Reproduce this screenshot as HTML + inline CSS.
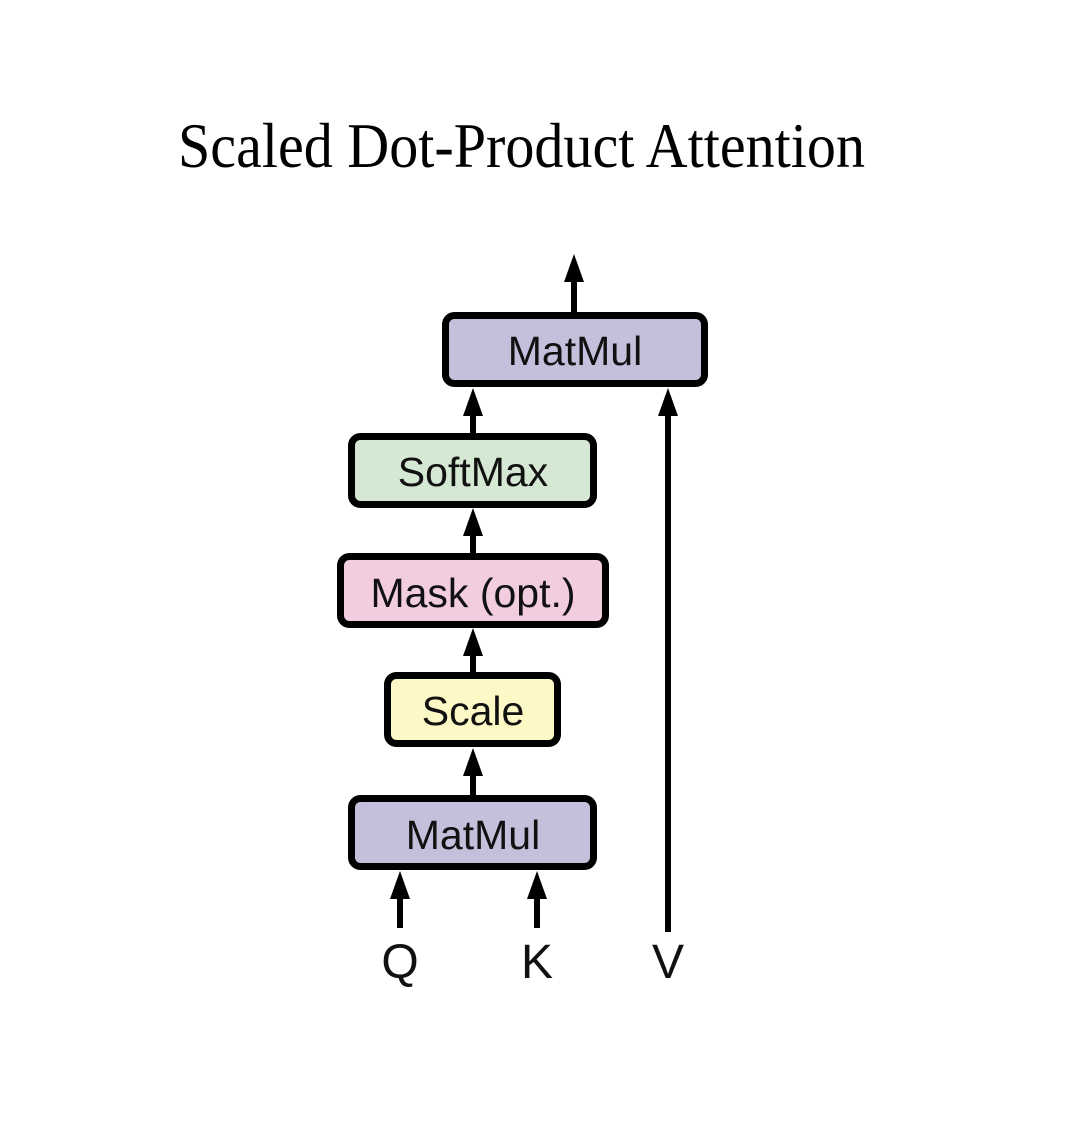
<!DOCTYPE html>
<html><head><meta charset="utf-8"><style>html,body{margin:0;padding:0;background:#fff}</style></head>
<body>
<svg width="1080" height="1128" viewBox="0 0 1080 1128" xmlns="http://www.w3.org/2000/svg">
<rect width="1080" height="1128" fill="#fff"/>
<text x="178" y="167" font-family="Liberation Serif, serif" font-size="63" textLength="687" lengthAdjust="spacingAndGlyphs" fill="#000">Scaled Dot-Product Attention</text>
<g stroke="#000" stroke-width="7">
<rect x="445.5" y="315.5" width="259" height="68" rx="9" fill="#c6bfdc"/>
<rect x="351.5" y="436.5" width="242" height="68" rx="9" fill="#d4e8d4"/>
<rect x="340.5" y="556.5" width="265" height="68" rx="9" fill="#f2cde0"/>
<rect x="387.5" y="675.5" width="170" height="68" rx="9" fill="#fdf9c6"/>
<rect x="351.5" y="798.5" width="242" height="68" rx="9" fill="#c6bfdc"/>
</g>
<g stroke="#000" stroke-width="6" fill="none">
<line x1="574" y1="312" x2="574" y2="262"/>
<line x1="473" y1="433" x2="473" y2="396"/>
<line x1="473" y1="553" x2="473" y2="516"/>
<line x1="473" y1="672" x2="473" y2="636"/>
<line x1="473" y1="795" x2="473" y2="756"/>
<line x1="400" y1="928" x2="400" y2="880"/>
<line x1="537" y1="928" x2="537" y2="880"/>
<line x1="668" y1="932" x2="668" y2="396"/>
</g>
<g fill="#000">
<path d="M574,254 L564,282 L584,282 Z"/>
<path d="M473,388 L463,416 L483,416 Z"/>
<path d="M473,508 L463,536 L483,536 Z"/>
<path d="M473,628 L463,656 L483,656 Z"/>
<path d="M473,748 L463,776 L483,776 Z"/>
<path d="M400,871 L390,899 L410,899 Z"/>
<path d="M537,871 L527,899 L547,899 Z"/>
<path d="M668,388 L658,416 L678,416 Z"/>
</g>
<g font-family="Liberation Sans, sans-serif" font-size="41" fill="#111" text-anchor="middle">
<text x="575" y="365">MatMul</text>
<text x="473" y="486">SoftMax</text>
<text x="473" y="607">Mask (opt.)</text>
<text x="473" y="725">Scale</text>
<text x="473" y="849">MatMul</text>
</g>
<g font-family="Liberation Sans, sans-serif" font-size="48" fill="#111" text-anchor="middle">
<text x="400" y="978">Q</text>
<text x="537" y="978">K</text>
<text x="668" y="978">V</text>
</g>
</svg>
</body></html>
